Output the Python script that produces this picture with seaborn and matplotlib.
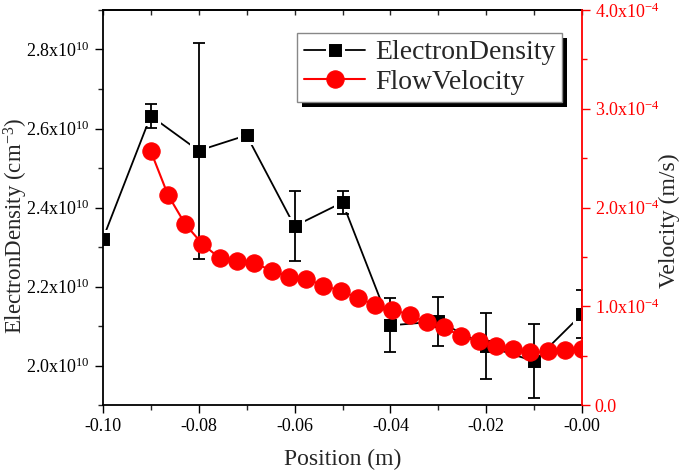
import matplotlib
matplotlib.use("Agg")
import matplotlib.pyplot as plt
import seaborn as sns
from matplotlib.ticker import FuncFormatter, MultipleLocator
from matplotlib.patches import Rectangle
from matplotlib.transforms import IdentityTransform

# electron density measured at probe positions (with error bars)
pos_ne = [-0.10, -0.09, -0.08, -0.07, -0.06, -0.05, -0.04, -0.03, -0.02, -0.01, 0.00]
electron_density = [2.32e10, 2.632e10, 2.544e10, 2.583e10, 2.353e10, 2.413e10,
                    2.102e10, 2.112e10, 2.050e10, 2.011e10, 2.131e10]
density_err = [0.0, 0.030e10, 0.273e10, 0.005e10, 0.088e10, 0.028e10,
               0.068e10, 0.062e10, 0.083e10, 0.094e10, 0.060e10]

# simulated flow velocity
pos_v = [-0.0900, -0.0864, -0.0828, -0.0792, -0.0756, -0.0720, -0.0684, -0.0648,
         -0.0612, -0.0576, -0.0540, -0.0504, -0.0468, -0.0432, -0.0396, -0.0360,
         -0.0324, -0.0288, -0.0252, -0.0216, -0.0180, -0.0144, -0.0108, -0.0072,
         -0.0036, 0.0000]
flow_velocity = [2.573e-4, 2.128e-4, 1.832e-4, 1.630e-4, 1.488e-4, 1.461e-4,
                 1.438e-4, 1.363e-4, 1.302e-4, 1.279e-4, 1.211e-4, 1.158e-4,
                 1.084e-4, 1.016e-4, 0.966e-4, 0.915e-4, 0.837e-4, 0.787e-4,
                 0.696e-4, 0.645e-4, 0.602e-4, 0.568e-4, 0.534e-4, 0.544e-4,
                 0.554e-4, 0.568e-4]

sns.set_style("ticks")
plt.rcParams["font.family"] = ["Liberation Serif", "DejaVu Serif"]
plt.rcParams["mathtext.fontset"] = "custom"
plt.rcParams["mathtext.rm"] = "Liberation Serif"
plt.rcParams["axes.unicode_minus"] = False

RED = "#ff0000"

fig = plt.figure(figsize=(6.85, 4.75), dpi=100)
ax = fig.add_axes([0.150, 0.147, 0.700, 0.832])
ax2 = ax.twinx()

# density: line + squares (white edge gives the gap between line and marker)
sns.lineplot(x=pos_ne, y=electron_density, ax=ax, color="black", lw=1.3,
             marker="s", markersize=11, markeredgecolor="white",
             markeredgewidth=2.2, label="ElectronDensity", sort=False)
ax.errorbar(pos_ne, electron_density, yerr=density_err, fmt="none",
            ecolor="black", elinewidth=1.3, capsize=4, capthick=1.3, zorder=3)

sns.lineplot(x=pos_v, y=flow_velocity, ax=ax2, color=RED, lw=1.5,
             marker="o", markersize=12.5, markeredgecolor=RED,
             label="FlowVelocity", sort=False)

for a in (ax, ax2):
    if a.get_legend() is not None:
        a.get_legend().remove()

ax.set_xlim(-0.10, 0.00)
ax.set_ylim(1.9e10, 2.9e10)
ax2.set_ylim(0, 4.0e-4)

ax.xaxis.set_major_locator(MultipleLocator(0.02))
ax.xaxis.set_minor_locator(MultipleLocator(0.01))
ax.xaxis.set_major_formatter(FuncFormatter(lambda v, p: f"{v:.2f}"))
ax.yaxis.set_major_locator(MultipleLocator(0.2e10))
ax.yaxis.set_minor_locator(MultipleLocator(0.1e10))
ax.yaxis.set_major_formatter(FuncFormatter(
    lambda v, p: f"{v / 1e10:.1f}x10$\\mathregular{{^{{10}}}}$"))
ax2.yaxis.set_major_locator(MultipleLocator(1e-4))
ax2.yaxis.set_minor_locator(MultipleLocator(0.5e-4))
ax2.yaxis.set_major_formatter(FuncFormatter(
    lambda v, p: "0.0" if abs(v) < 1e-12 else f"{v / 1e-4:.1f}x10$\\mathregular{{^{{-4}}}}$"))

ax.tick_params(axis="both", which="major", direction="out", length=6, width=1,
               labelsize=13, colors="black", pad=3)
ax.tick_params(axis="both", which="minor", direction="out", length=3.5, width=1)
ax.tick_params(axis="y", right=False)
ax2.tick_params(axis="y", which="major", direction="out", length=6, width=1,
                colors=RED, labelsize=13, pad=3)
ax2.tick_params(axis="y", which="minor", direction="out", length=3.5, width=1,
                colors=RED)

# top axis: inward ticks, no labels
top = ax.secondary_xaxis("top")
top.xaxis.set_major_locator(MultipleLocator(0.01))
top.tick_params(direction="in", length=3.5, width=1, labeltop=False)
top.spines["top"].set_linewidth(1.3)

for s in ("left", "bottom", "top"):
    ax.spines[s].set_linewidth(1.3)
    ax.spines[s].set_color("black")
ax2.spines["right"].set_color(RED)
ax2.spines["right"].set_linewidth(1.3)
ax.spines["right"].set_visible(False)
for s in ("left", "bottom", "top"):
    ax2.spines[s].set_visible(False)

ax.set_xlabel("Position (m)", fontsize=17)
ax.set_ylabel("ElectronDensity (cm$\\mathregular{^{-3}}$)", fontsize=16.5)
ax2.set_ylabel("Velocity (m/s)", fontsize=17, rotation=90)
ax.xaxis.set_label_coords(0.5, -0.110)
ax.yaxis.set_label_coords(-0.152, 0.453)
ax2.yaxis.set_label_coords(1.160, 0.468)

h1, l1 = ax.get_legend_handles_labels()
h2, l2 = ax2.get_legend_handles_labels()
leg = ax2.legend(h1 + h2, l1 + l2, loc="upper left",
                 bbox_to_anchor=(297 / 685, 1 - 33 / 475),
                 bbox_transform=fig.transFigure, fontsize=20, frameon=True,
                 fancybox=False, framealpha=1, edgecolor="#888888",
                 handlelength=2.2, handletextpad=0.35, borderpad=0.25,
                 labelspacing=0.15, borderaxespad=0)
leg.get_frame().set_linewidth(1)
leg.set_zorder(10)

# solid black drop shadow behind the legend box
fig.canvas.draw()
bb = leg.get_window_extent()
shadow = Rectangle((bb.x0 + 5, bb.y0 - 5), bb.width, bb.height,
                   transform=IdentityTransform(), facecolor="black",
                   edgecolor="none", zorder=9, clip_on=False)
ax2.add_artist(shadow)

fig.savefig("out.png", dpi=100)
